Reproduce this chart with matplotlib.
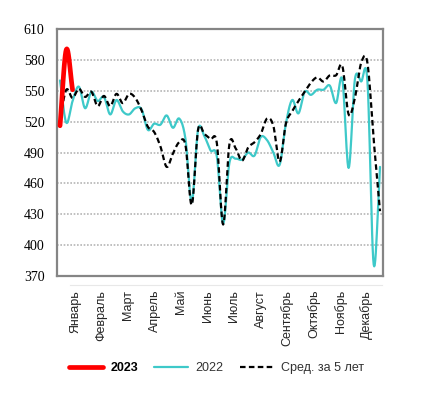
import numpy as np
import matplotlib
matplotlib.use("Agg")
import matplotlib.pyplot as plt
from matplotlib.lines import Line2D

months = ["Январь", "Февраль", "Март", "Апрель", "Май", "Июнь", "Июль",
          "Август", "Сентябрь", "Октябрь", "Ноябрь", "Декабрь"]

y2023 = [516, 590, 551]

y2022 = [560, 519, 540, 554, 533, 549, 540, 544, 527, 541,
         530, 527, 533, 532, 512, 518, 517, 526, 514, 523,
         503, 442, 512, 506, 492, 486, 421, 480, 484, 483,
         490, 487, 505, 502, 490, 478, 518, 541, 528, 549,
         546, 551, 551, 555, 538, 561, 475, 561, 559, 559,
         381, 476]

avg5 = [523, 551, 543, 552, 544, 549, 535, 545, 535, 547,
        538, 547, 543, 531, 515, 510, 496, 476, 489, 500,
        497, 439, 512, 508, 503, 499, 420, 498, 494, 482,
        495, 500, 508, 523, 516, 481, 518, 530, 540, 549,
        558, 563, 559, 565, 565, 574, 527, 543, 577, 577,
        502, 433]

yticks = [370, 400, 430, 460, 490, 520, 550, 580, 610]


def smooth(y, n=12):
    """Catmull-Rom spline through the weekly points (like Excel smoothed lines)."""
    y = np.asarray(y, float)
    x = np.arange(1, len(y) + 1, dtype=float)
    if len(y) < 2:
        return x, y
    yp = np.concatenate([[2 * y[0] - y[1]], y, [2 * y[-1] - y[-2]]])
    xs, ys = [], []
    for i in range(len(y) - 1):
        p0, p1, p2, p3 = yp[i], yp[i + 1], yp[i + 2], yp[i + 3]
        t = np.linspace(0, 1, n, endpoint=False)
        v = 0.5 * ((2 * p1) + (-p0 + p2) * t + (2 * p0 - 5 * p1 + 4 * p2 - p3) * t ** 2
                   + (-p0 + 3 * p1 - 3 * p2 + p3) * t ** 3)
        xs.append(x[i] + t)
        ys.append(v)
    xs.append([x[-1]])
    ys.append([y[-1]])
    return np.concatenate(xs), np.concatenate(ys)


fig = plt.figure(figsize=(4.25, 4.05), dpi=100)
ax = fig.add_axes([57 / 425, 1 - 276 / 405, 326 / 425, 247 / 405])

x, y = smooth(y2022)
ax.plot(x, y, color="#3ec9c9", lw=1.6, label="2022", zorder=3, solid_capstyle="round")
x, y = smooth(avg5)
ax.plot(x, y, color="black", lw=1.6, dashes=(2.5, 1.5), label="Сред. за 5 лет", zorder=4)
x, y = smooth(y2023)
ax.plot(x, y, color="#ff0000", lw=3.4, label="2023", zorder=5, solid_capstyle="round")

ax.set_xlim(0.52, 52.48)
ax.set_ylim(370, 610)
ax.set_yticks(yticks)
ax.set_yticklabels([str(v) for v in yticks], fontfamily="Liberation Serif", fontsize=10)
ax.tick_params(axis="y", length=0, pad=9)

month_pos = 3.4 + 4.227 * np.arange(12)
ax.set_xticks(month_pos)
ax.set_xticklabels(months, rotation=90, fontfamily="Liberation Sans", fontsize=9, color="#262626")
ax.tick_params(axis="x", length=0, pad=10)

for v in yticks[1:-1]:
    ax.axhline(v, color="#b5b5b5", lw=1.2, ls=(0, (1, 1)), zorder=1)

for s in ax.spines.values():
    s.set_color("#858585")
    s.set_linewidth(1.6)

fig.add_artist(Line2D([70 / 425, 382 / 425], [1 - 285 / 405] * 2, color="#e8e8e8", lw=0.8,
                      transform=fig.transFigure))

handles, labels = ax.get_legend_handles_labels()
order = [2, 0, 1]
leg = fig.legend([handles[i] for i in order], [labels[i] for i in order],
                 loc="center", bbox_to_anchor=(0.51, 1 - 368 / 405), ncol=3, frameon=False,
                 prop={"family": "Liberation Sans", "size": 9}, handlelength=2.7,
                 handletextpad=0.6, columnspacing=1.3)
for t in leg.get_texts():
    t.set_color("#333333")
leg.get_texts()[0].set_fontweight("bold")
leg.get_texts()[0].set_color("black")

fig.savefig("out.png", dpi=100)
